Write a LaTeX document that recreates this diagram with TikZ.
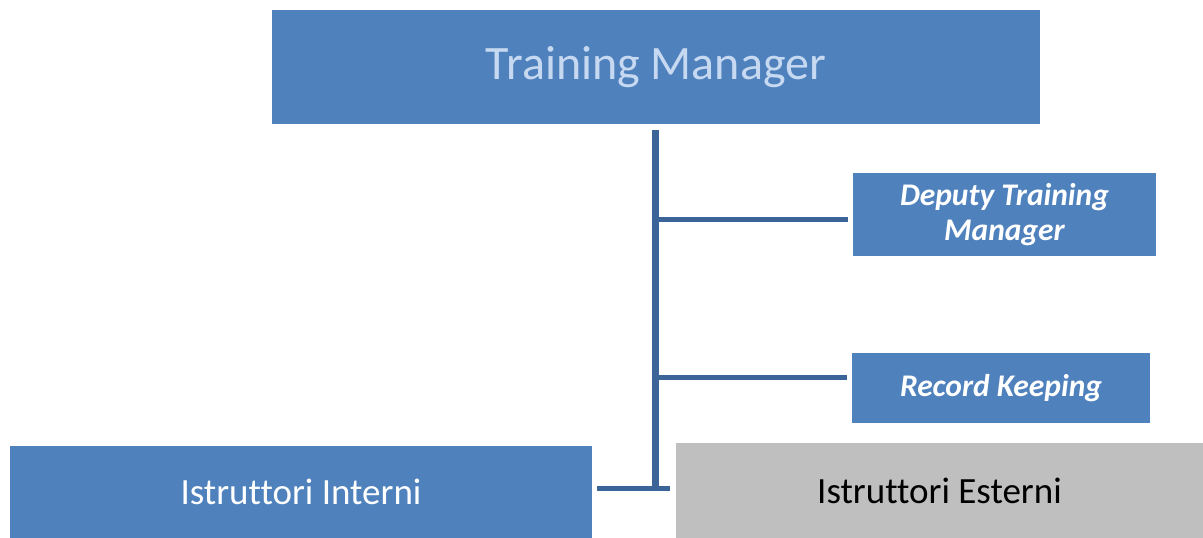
\documentclass[tikz,border=0pt]{standalone}
\usepackage{fontspec}
\setmainfont[Ligatures=NoCommon]{Carlito}
\definecolor{boxblue}{RGB}{79,129,189}
\definecolor{lineblue}{RGB}{59,100,152}
\definecolor{lighttext}{RGB}{198,217,241}
\definecolor{boxgray}{RGB}{191,191,191}
\begin{document}
\begin{tikzpicture}[x=1pt,y=-1pt,
  box/.style={fill=boxblue,draw=none,inner sep=0pt,text=white,align=center},
  conn/.style={draw=lineblue,line width=5pt}]
\useasboundingbox (0,0) rectangle (1203,538);
\node[box,minimum width=768pt,minimum height=114pt,text=lighttext,font=\fontsize{48}{56}\selectfont] (tm) at (656,67) {Training Manager};
\node[box,minimum width=303pt,minimum height=83pt,font=\fontsize{31.5}{35}\selectfont\bfseries\itshape] (dep) at (1004.5,214.5) {Deputy Training\\Manager};
\node[box,minimum width=298pt,minimum height=70pt,font=\fontsize{31.5}{35}\selectfont\bfseries\itshape] (rec) at (1001,388) {Record Keeping};
\node[box,minimum width=582pt,minimum height=92pt,font=\fontsize{37}{42}\selectfont] (int) at (301,492) {Istruttori Interni};
\node[box,fill=boxgray,text=black,minimum width=527pt,minimum height=95pt,font=\fontsize{37}{42}\selectfont] (ext) at (939.5,490.5) {Istruttori Esterni};
\coordinate (top) at (655.5,130);
\coordinate (bot) at (655.5,490);
\coordinate (j1) at (655.5,219);
\coordinate (j1e) at (848,219);
\coordinate (j2) at (655.5,377);
\coordinate (j2e) at (847,377);
\coordinate (bl) at (597,488);
\coordinate (br) at (670,488);
\draw[conn,line width=7pt] (top) -- (bot);
\draw[conn] (j1) -- (j1e);
\draw[conn] (j2) -- (j2e);
\draw[conn] (bl) -- (br);
\end{tikzpicture}
\end{document}
